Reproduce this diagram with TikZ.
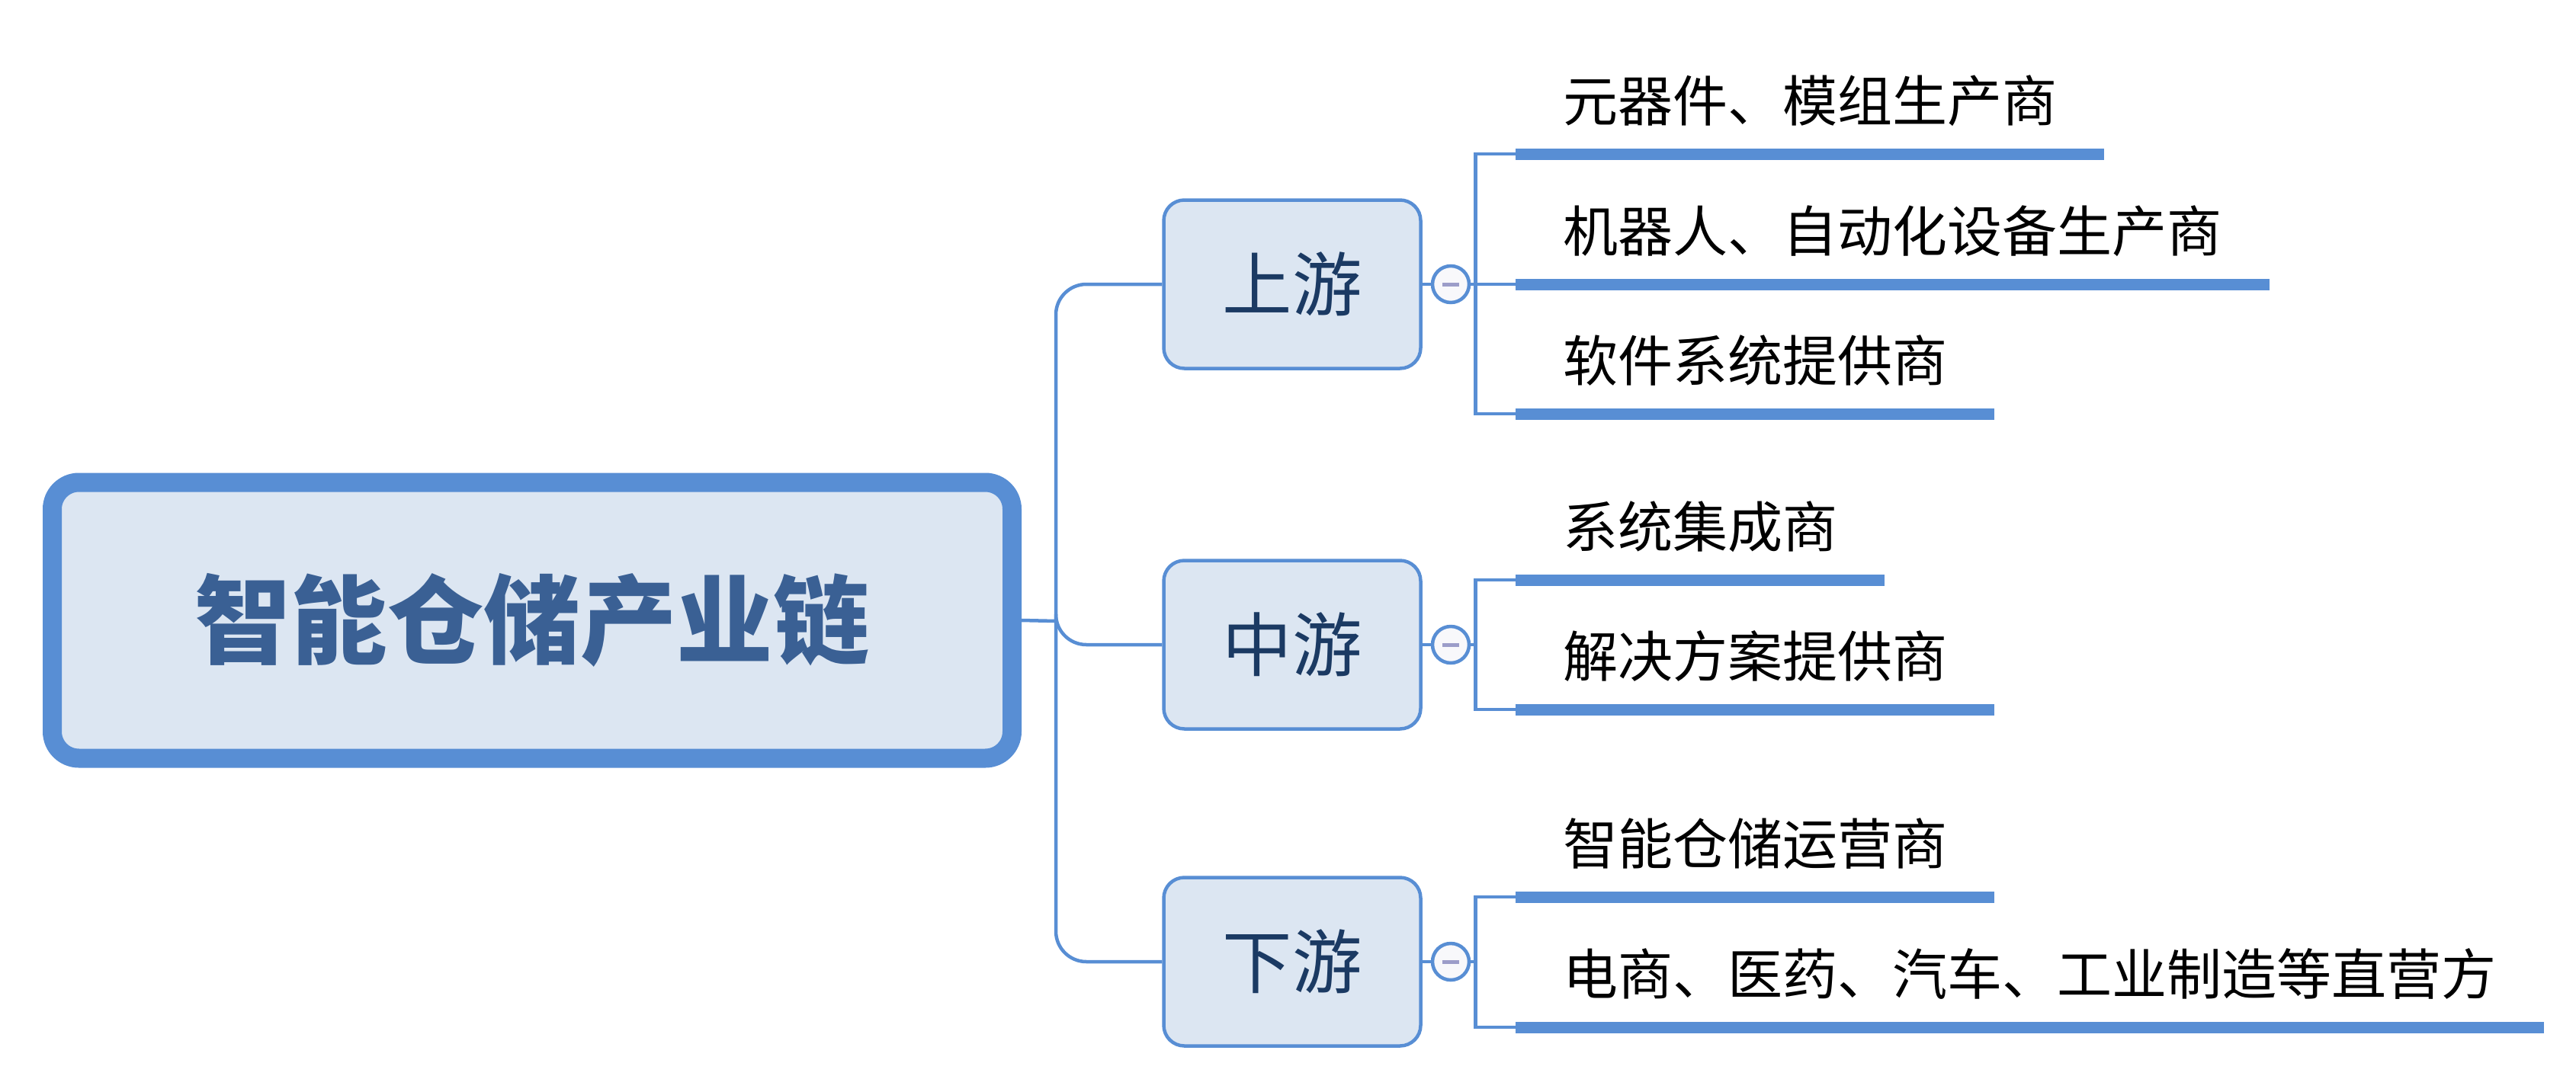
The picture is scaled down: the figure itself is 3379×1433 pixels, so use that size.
\documentclass[tikz,border=0pt]{standalone}
\usepackage{fontspec}
\usepackage{tikz}
\newfontfamily\cjk{Noto Sans CJK SC}
\definecolor{linkblue}{RGB}{88,142,212}
\definecolor{boxfill}{RGB}{220,230,242}
\definecolor{roottext}{RGB}{58,96,148}
\definecolor{branchtext}{RGB}{27,58,99}
\definecolor{foldfill}{RGB}{248,248,251}
\definecolor{foldmark}{RGB}{156,157,201}
\begin{document}
\begin{tikzpicture}[x=0.1mm, y=-0.1mm]
  \tikzstyle{rootbox} = [draw=linkblue, line width=2.5mm, fill=boxfill, rounded corners=3.5mm,
    minimum width=125.9mm, minimum height=36.2mm, inner sep=0pt,
    text=roottext, font=\cjk\bfseries\fontsize{36pt}{40pt}\selectfont]
  \tikzstyle{branch} = [draw=linkblue, line width=0.45mm, fill=boxfill, rounded corners=2.7mm,
    minimum width=33.7mm, minimum height=22.1mm, inner sep=0pt,
    text=branchtext, font=\cjk\fontsize{26pt}{30pt}\selectfont]
  \tikzstyle{fold} = [circle, draw=linkblue, line width=0.45mm, fill=foldfill, inner sep=0pt,
    minimum size=4.8mm,
    path picture={\draw[foldmark, line width=0.5mm]
      ([xshift=-1.1mm]path picture bounding box.center) -- ([xshift=1.1mm]path picture bounding box.center);}]
  \tikzstyle{leaf} = [anchor=south west, inner xsep=6.2mm, inner ysep=0pt, outer sep=0pt,
    minimum height=14mm, font=\cjk\fontsize{20.5pt}{24pt}\selectfont]
  \tikzstyle{conn} = [draw=linkblue, line width=0.45mm]
  \tikzstyle{bar} = [draw=linkblue, line width=1.5mm]
  \useasboundingbox (0,0) rectangle (3379,1433);
  \node[rootbox] (root) at (698,814) {智能仓储产业链};
  \coordinate (trunk) at (1385,815);
  \draw[conn] (root.east) -- (trunk);
  \foreach \b/\y/\t in {up/373/上游, mid/846/中游, down/1262/下游} {
    \node[branch] (\b) at (1695,\y) {\t};
    \node[fold] (\b-c) at (1903,\y) {};
    \draw[conn, rounded corners=4mm] (trunk) |- (\b.west);
    \draw[conn] (\b.east) -- (\b-c.west);
  }
  \foreach \b/\n/\y/\t in {up/u1/202/元器件、模组生产商, up/u2/373/机器人、自动化设备生产商,
      up/u3/543/软件系统提供商, mid/m1/761/系统集成商, mid/m2/931/解决方案提供商,
      down/d1/1177/智能仓储运营商, down/d2/1348/电商、医药、汽车、工业制造等直营方} {
    \node[leaf] (\n) at (1988,\y) {\t};
    \draw[bar] (\n.south west) -- (\n.south east);
    \draw[conn] (\b-c.east) -- ++(6,0) |- (\n.south west);
  }
\end{tikzpicture}
\end{document}
